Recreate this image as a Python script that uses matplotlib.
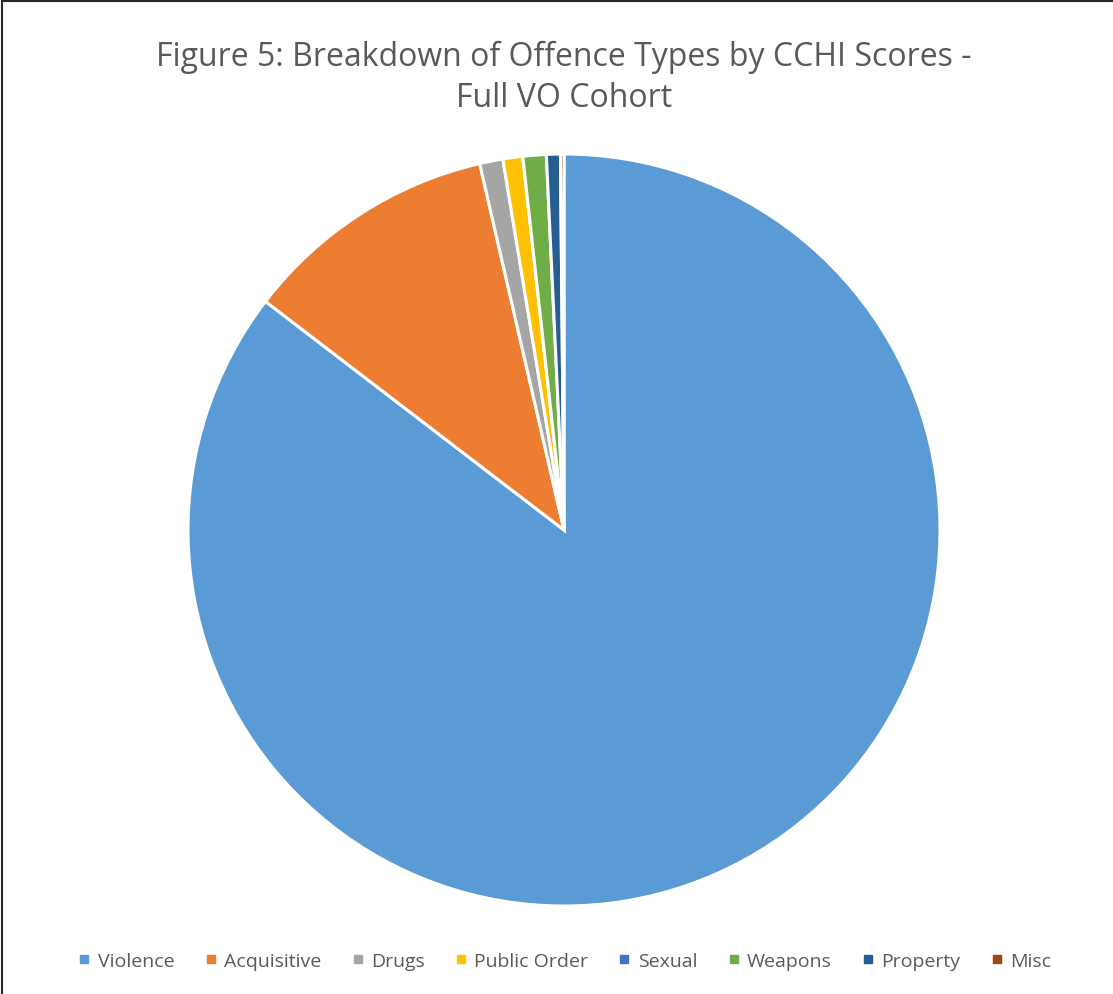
import matplotlib
matplotlib.use("Agg")
import matplotlib.pyplot as plt
from matplotlib.patches import Rectangle
from matplotlib.lines import Line2D

categories = ["Violence", "Acquisitive", "Drugs", "Public Order", "Sexual", "Weapons", "Property", "Misc"]
values = [85.4, 11.0, 1.0, 0.85, 0.0, 1.0, 0.6, 0.15]
colors = ["#5B9BD5", "#ED7D31", "#A5A5A5", "#FFC000", "#4472C4", "#70AD47", "#255E91", "#9E480E"]
title = "Figure 5: Breakdown of Offence Types by CCHI Scores -\nFull VO Cohort"

plt.rcParams['font.family'] = ['Open Sans', 'DejaVu Sans']

fig = plt.figure(figsize=(11.13, 9.95), dpi=100)
fig.patch.set_facecolor("white")

ax = fig.add_axes([0.1689, 0.0884, 0.6757, 0.7558])
ax.pie(values, colors=colors, startangle=90, counterclock=False, radius=1,
       wedgeprops=dict(edgecolor="white", linewidth=2.2))
ax.set_xlim(-1, 1)
ax.set_ylim(-1, 1)
ax.set_aspect("equal")
ax.axis("off")

fig.text(0.5067, 1 - 78 / 995, title, ha="center", va="center", fontsize=23,
         color="#595959", linespacing=1.3)

handles = [Line2D([0], [0], marker="s", linestyle="none", markersize=6,
                  markerfacecolor=c, markeredgecolor=c) for c in colors]
leg = fig.legend(handles, categories, loc="center", bbox_to_anchor=(0.5067, 1 - 962 / 995),
                 ncol=8, frameon=False, fontsize=14, handlelength=0.8, handletextpad=0.3,
                 columnspacing=1.45, labelcolor="#595959")

fig.add_artist(Rectangle((0.002, -0.01), 1.2, 1.008, transform=fig.transFigure,
                         fill=False, edgecolor="#262626", linewidth=1.5))

fig.savefig("out.png", dpi=100)
